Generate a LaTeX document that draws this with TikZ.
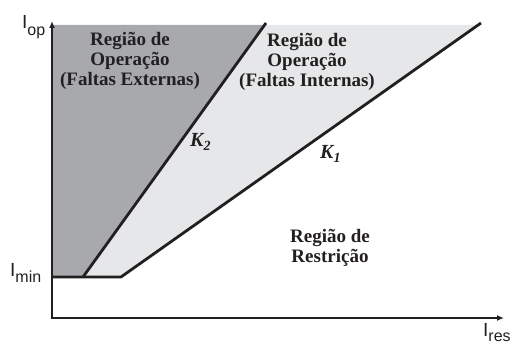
\documentclass[tikz,border=0pt]{standalone}
\usepackage{fontspec}
\setmainfont{Liberation Serif}
\setsansfont{Liberation Sans}
\usetikzlibrary{arrows.meta}
\definecolor{darkreg}{HTML}{A7A9AC}
\definecolor{lightreg}{HTML}{E6E7E8}
\definecolor{ink}{HTML}{231F20}
\begin{document}
\begin{tikzpicture}[x=1pt,y=-1pt,
  curve/.style={draw=ink,line width=2.8pt,line join=miter},
  axis/.style={draw=ink,line width=2.8pt,-{Latex[length=7pt,width=6pt]}},
  region/.style={font=\fontsize{19}{20}\selectfont\bfseries,align=center,inner sep=0pt,anchor=base,text=ink},
  klabel/.style={font=\fontsize{20}{20}\selectfont\bfseries\itshape,inner sep=0pt,anchor=base west,text=ink},
  axlabel/.style={font=\fontsize{19}{19}\selectfont\sffamily,inner sep=0pt,anchor=base west,text=ink}]
\useasboundingbox (0,0) rectangle (512,347);
\coordinate (O) at (52,318);
\coordinate (Ytop) at (52,21);
\coordinate (Xend) at (504,318);
\coordinate (Imin) at (52,277);
\coordinate (B2) at (83,277);
\coordinate (B1) at (121,277);
\coordinate (T2) at (266,23);
\coordinate (T1) at (481,23);
\coordinate (TL) at (52,25);
\coordinate (TM) at (264.6,25);
\coordinate (TR) at (478,25);
% regions
\fill[darkreg] (TL) -- (TM) -- (B2) -- (Imin) -- cycle;
\fill[lightreg] (TM) -- (TR) -- (B1) -- (B2) -- cycle;
% curves
\draw[curve] (Imin) -- (B1) -- (T1);
\draw[curve] (B2) -- (T2);
% axes
\draw[axis] ([yshift=1.4pt]O) -- (Ytop);
\draw[axis] ([xshift=-1.4pt]O) -- (Xend);
% texts
\node[region] (ext) at (130,86) {Região de\\Operação\\(Faltas Externas)};
\node[region] (int) at (307,87) {Região de\\Operação\\(Faltas Internas)};
\node[region] (res) at (330,263) {Região de\\Restrição};
\node[klabel] (k2) at (190,147) {K\raisebox{-4pt}{\fontsize{14}{14}\selectfont 2}};
\node[klabel] (k1) at (320,159) {K\raisebox{-4pt}{\fontsize{14}{14}\selectfont 1}};
\node[axlabel] (iop) at (22,29) {I\raisebox{-7pt}{\fontsize{16}{16}\selectfont op}};
\node[axlabel] (imin) at (10,277) {I\raisebox{-6pt}{\fontsize{16}{16}\selectfont min}};
\node[axlabel] (ires) at (483,337) {I\raisebox{-5pt}{\fontsize{16}{16}\selectfont res}};
\end{tikzpicture}
\end{document}
